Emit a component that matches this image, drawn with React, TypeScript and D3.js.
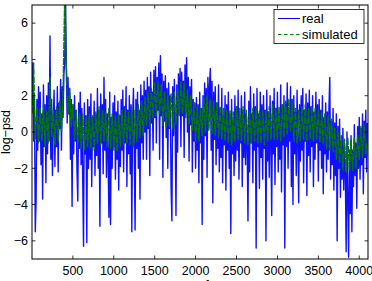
import React from "react";
import * as d3 from "d3";

// frequency grid step (Hz) of each series
const realStep = 10;
const simStep = 20;

// real log-psd, f = 0, 10, 20, ... 4100
const realPsd: number[] = [
  1.5, 3.8, -0.5, 2.0, -5.5, -3.8, 1.8, -1.0, 2.5, -0.5,
  2.2, -1.8, 1.0, -3.7, 2.6, -0.8, 1.5, -2.8, 2.0, -1.2,
  2.7, -0.5, 5.3, -1.5, 1.8, -2.4, 0.6, 2.3, -1.9, 1.2,
  -0.8, 2.5, -2.2, 1.6, 0.2, 2.9, -1.0, 2.5, 0.8, 3.2,
  3.8, 7.5, 3.4, 0.5, 3.0, 1.0, 2.4, -1.5, 1.8, -4.1,
  1.5, -1.2, 2.0, -0.5, 1.2, -2.2, -3.8, 1.6, -0.9, 2.2,
  -1.8, 1.3, -2.7, -6.3, 1.6, -1.2, 0.9, -6.1, 1.8, -2.0,
  1.4, -1.5, 2.1, -3.0, 0.8, -0.8, 1.7, -2.4, 1.0, -1.3,
  2.4, -2.0, 1.2, -5.2, 2.1, -0.6, 1.5, -2.3, 3.0, -1.0,
  1.8, -2.5, 1.0, -1.4, -4.7, 2.2, -5.1, 0.8, -2.0, 1.6,
  -0.8, 2.0, -2.6, 1.1, -1.5, 1.7, -3.2, 0.9, -1.9, 1.8,
  -1.0, 2.3, -2.2, 1.4, -0.6, 2.5, -3.0, 1.2, -1.2, 2.0,
  -2.3, 1.5, -5.5, 0.9, 2.4, -1.0, -5.4, 1.8, -0.9, 2.2,
  -2.0, 1.2, -3.7, 2.6, -0.6, 2.0, -1.5, 2.8, 0.0, 2.3,
  -1.5, 3.0, 0.2, 2.5, -2.4, 3.3, 0.5, 2.2, -1.0, 3.4,
  0.8, 3.6, -0.6, 3.0, 1.2, 3.8, -1.5, 4.2, 0.9, 3.2,
  -2.5, 2.8, 0.6, 3.1, -0.3, 2.4, -2.0, 2.7, 0.2, 2.0,
  -3.0, -4.9, 2.5, -0.2, 2.9, 0.5, -4.6, 2.6, -1.1, 3.2,
  1.0, 3.5, -0.8, 3.3, 0.9, 2.8, -1.4, 3.7, 1.1, 4.1,
  0.0, 3.0, -1.6, 2.5, 0.4, 2.9, -2.2, 1.8, -0.5, 1.6,
  -2.0, 1.9, -1.0, 1.5, -2.8, 2.2, -0.6, 1.3, -5.1, 2.0,
  -1.5, 2.7, -0.2, 2.4, -2.5, 3.0, 0.2, 2.6, 3.5, -1.0,
  2.8, -3.9, 2.2, -0.4, 2.5, -1.8, 1.6, -0.9, 2.6, -2.2,
  1.3, -1.4, 2.4, -2.8, 0.9, -0.7, 2.0, -3.2, 1.5, -1.0,
  2.2, -2.0, 1.0, -5.6, 1.8, -1.2, 0.6, -2.4, 2.0, -1.6,
  1.4, -1.0, 2.3, -2.6, 0.7, -0.6, 2.0, -3.0, 1.2, -1.4,
  2.2, -1.8, 1.0, -0.8, -4.9, 1.7, -2.2, 2.5, -0.6, 1.0,
  -2.8, 2.1, -1.0, 1.4, -6.4, 2.4, -0.8, 1.0, -3.1, 2.2,
  -1.4, 1.5, -2.6, 2.0, -0.9, 1.2, -6.0, 2.3, -1.6, 1.1,
  -2.5, 2.0, -0.6, -4.6, 1.7, -1.2, 2.4, -2.9, 1.3, -0.8,
  2.2, -2.2, 1.0, -1.5, 2.6, -3.3, 1.5, -0.7, 2.0, -6.4,
  1.6, -0.8, 2.7, -2.0, 1.3, -0.5, 2.5, -3.0, 1.8, -4.0,
  2.0, -1.2, 1.1, -2.4, 2.3, -0.6, -3.9, 1.5, -1.6, 2.0,
  -1.0, 2.4, -2.8, 1.2, -0.5, 2.1, -3.5, 1.6, -1.3, 2.3,
  -2.2, 1.4, -0.8, 2.0, -3.0, 1.1, -1.5, 2.2, -0.6, 1.5,
  -2.7, 1.8, -1.0, 1.2, -2.0, 2.0, -3.4, 0.8, -1.2, 1.6,
  -2.2, 1.1, -1.5, 1.4, 3.0, -2.6, 0.6, -1.8, 1.3, -3.2,
  0.5, -2.4, 1.0, -6.0, 0.3, -2.0, 0.7, -3.6, -0.5, -2.6,
  0.2, -3.2, -0.8, -2.4, -6.6, 0.0, -3.8, -6.9, -1.0, -4.5,
  -0.2, -5.5, -1.0, -3.0, 0.4, -2.4, -0.6, -4.2, 0.3, -2.0,
  0.8, -2.6, 0.2, -1.8, 1.0, -3.4, 0.6, -1.4, 1.2, -2.2,
  0.5,
];

// simulated log-psd, f = 0, 20, 40, ... 4100
const simPsd: number[] = [
  1.0, 3.8, -0.4, 1.4, -0.6,
  1.3, -0.5, 1.6, -0.8, 1.1,
  -0.6, 3.0, -0.3, 1.2, -0.7,
  1.4, -0.5, 1.7, 0.0, 2.2,
  7.5, 3.6, 1.0, 2.4, 0.3,
  1.5, -0.4, 1.2, -0.6, 1.0,
  -0.9, 1.0, -1.0, 0.8, -0.8,
  1.0, -0.9, 0.9, -1.0, 1.1,
  -0.6, 1.4, -0.7, 1.2, -0.5,
  1.1, -0.8, 1.3, -0.9, 1.0,
  -1.0, 0.9, -1.1, 1.0, -0.8,
  1.2, -0.7, 1.3, -0.6, 1.1,
  -0.7, 1.4, -0.8, 1.2, -0.5,
  1.5, -0.3, 1.7, -0.2, 1.9,
  0.4, 2.2, 0.3, 2.4, 0.8,
  2.7, 0.9, 2.8, 1.0, 2.6,
  0.4, 2.2, 0.3, 2.0, 0.3,
  2.1, 0.2, 2.2, 0.4, 2.4,
  0.9, 2.8, 1.0, 2.7, 0.8,
  2.3, 0.4, 2.0, 0.1, 1.6,
  -0.5, 1.4, -0.5, 1.3, -0.2,
  1.9, 0.0, 2.0, 0.1, 1.8,
  -0.1, 1.7, -0.2, 1.6, -0.3,
  1.4, -0.4, 1.3, -0.5, 1.2,
  -0.6, 1.2, -0.7, 1.1, -0.5,
  1.4, -0.4, 1.3, -0.5, 1.4,
  -0.6, 1.2, -0.7, 1.2, -0.6,
  1.3, -0.5, 1.3, -0.6, 1.2,
  -0.6, 1.2, -0.7, 1.1, -0.5,
  1.4, -0.4, 1.5, -0.4, 1.3,
  -0.4, 1.4, -0.5, 1.5, -0.3,
  1.7, -0.1, 1.8, 0.0, 1.6,
  -0.5, 1.3, -0.6, 1.2, -0.5,
  1.4, -0.4, 1.5, -0.5, 1.3,
  -0.4, 1.4, -0.5, 1.3, -0.4,
  1.2, -0.6, 1.1, -0.7, 1.0,
  -0.9, 0.9, -1.0, 0.7, -1.1,
  0.2, -1.5, 0.1, -1.7, -0.2,
  -2.1, -0.4, -2.2, -0.3, -2.1,
  -0.4, -2.1, -0.3, -2.0, -0.2,
  -1.5, 0.3, -1.4, 0.4, -1.2,
  -0.4,
];

const xTicks = [500, 1000, 1500, 2000, 2500, 3000, 3500, 4000];
const yTicks = [-6, -4, -2, 0, 2, 4, 6];
const seriesNames = ["real", "simulated"];
const xDomain = [0, 4107];
const yDomain = [-7, 7];

const W = 372;
const H = 281;
const L = 32, R = 368, T = 5, B = 259;
const FONT = "'Liberation Sans', Arial, Helvetica, sans-serif";

export default function App() {
  const x = d3.scaleLinear().domain(xDomain).range([L, R]);
  const y = d3.scaleLinear().domain(yDomain).range([B, T]);

  const realLine = d3
    .line<number>()
    .x((_, i) => x(i * realStep))
    .y((v) => y(v));
  const simLine = d3
    .line<number>()
    .x((_, i) => x(i * simStep))
    .y((v) => y(v));

  const fmt = (v: number) => (v < 0 ? "\u2212" + Math.abs(v) : String(v));
  const tk = 3.5;

  return (
    <svg
      width={W}
      height={H}
      style={{ position: "fixed", left: 0, top: 0, background: "#fff" }}
      fontFamily={FONT}
    >
      <rect x={0} y={0} width={W} height={H} fill="#fff" />
      <defs>
        <clipPath id="plotclip">
          <rect x={L} y={T} width={R - L} height={B - T} />
        </clipPath>
      </defs>
      <g clipPath="url(#plotclip)">
        <path
          d={realLine(realPsd) || ""}
          fill="none"
          stroke="#1010ff"
          strokeWidth={1.4}
          strokeLinejoin="round"
        />
        <path
          d={simLine(simPsd) || ""}
          fill="none"
          stroke="#007a00"
          strokeWidth={1.4}
          strokeLinejoin="round"
          strokeDasharray="7,1"
        />
      </g>
      {/* axes box */}
      <rect x={L} y={T} width={R - L} height={B - T} fill="none" stroke="#000" strokeWidth={1} />
      {xTicks.map((t) => (
        <g key={"x" + t}>
          <line x1={x(t)} x2={x(t)} y1={B} y2={B - tk} stroke="#000" strokeWidth={0.8} />
          <line x1={x(t)} x2={x(t)} y1={T} y2={T + tk} stroke="#000" strokeWidth={0.8} />
          <text x={x(t)} y={275} textAnchor="middle" fontSize={12.5} fill="#000">
            {t}
          </text>
        </g>
      ))}
      {yTicks.map((t) => (
        <g key={"y" + t}>
          <line x1={L} x2={L + tk} y1={y(t)} y2={y(t)} stroke="#000" strokeWidth={0.8} />
          <line x1={R} x2={R - tk} y1={y(t)} y2={y(t)} stroke="#000" strokeWidth={0.8} />
          <text x={28} y={y(t) + 4.3} textAnchor="end" fontSize={12.5} fill="#000">
            {fmt(t)}
          </text>
        </g>
      ))}
      <text x={207} y={288.5} textAnchor="middle" fontSize={12.5} fill="#000">
        f
      </text>
      <text
        transform={`translate(10, ${(T + B) / 2}) rotate(-90)`}
        textAnchor="middle"
        fontSize={12.5}
        fill="#000"
      >
        log{"\u2212"}psd
      </text>
      {/* legend */}
      <rect x={274} y={9.5} width={90} height={34} fill="#fff" stroke="#000" strokeWidth={0.8} />
      <line x1={278} x2={300} y1={18.5} y2={18.5} stroke="#0000ff" strokeWidth={1} />
      <text x={302} y={23} fontSize={13} fill="#000">
        {seriesNames[0]}
      </text>
      <line x1={278} x2={300} y1={34.5} y2={34.5} stroke="#008000" strokeWidth={1} strokeDasharray="3.5,2.5" />
      <text x={302} y={39} fontSize={13} fill="#000">
        {seriesNames[1]}
      </text>
    </svg>
  );
}
